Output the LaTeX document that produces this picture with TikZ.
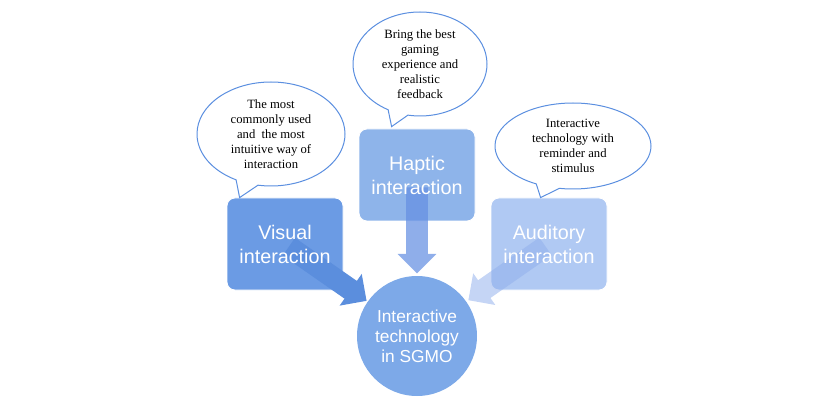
\documentclass[tikz,border=0pt]{standalone}
\usepackage{fontspec}
\setmainfont{Liberation Serif}
\setsansfont{Liberation Sans}
\usepackage{tikz}
\usetikzlibrary{shapes.callouts,shapes.arrows,calc}
\definecolor{visblue}{HTML}{6B9BE4}
\definecolor{hapblue}{HTML}{8EB4EA}
\definecolor{audblue}{HTML}{B0C9F3}
\definecolor{coreblue}{HTML}{7DA9E8}
\definecolor{visarrow}{HTML}{5B8EDD}
\definecolor{haparrow}{HTML}{6590E2}
\definecolor{audarrow}{HTML}{91AFEC}
\definecolor{bubbleline}{HTML}{5B8FE0}
\tikzset{
  font=\sffamily,
  modebox/.style={
    rounded corners=6pt, draw=white, line width=0.6pt,
    inner sep=0pt, minimum width=87pt, minimum height=69pt
  },
  boxlabel/.style={
    text=white, align=center, inner sep=0pt,
    font=\sffamily\fontsize{14.8}{18}\selectfont
  },
  corenode/.style={
    circle, fill=coreblue, text=white, align=center, inner sep=0pt,
    minimum size=90pt, font=\sffamily\fontsize{13}{15}\selectfont
  },
  bubble/.style={
    ellipse callout, draw=bubbleline, line width=0.75pt, fill=white,
    text=black, align=center, inner sep=0pt, callout pointer arc=18,
    font=\rmfamily\fontsize{9.5}{11.25}\selectfont
  },
  blockarrow/.style={
    single arrow, sloped, allow upside down, inner xsep=0pt, inner ysep=7.9pt,
    single arrow head extend=6.4pt, single arrow tip angle=90,
    minimum height=#1
  }
}

\begin{document}
\begin{tikzpicture}[x=0.75pt,y=-0.75pt]
  \useasboundingbox (0,0) rectangle (832,406);

  % ---- Interaction modes ----
  \node[modebox, fill=visblue] (vis) at (285,244) {};
  \node[modebox, fill=hapblue] (hap) at (417,175) {};
  \node[modebox, fill=audblue] (aud) at (549,244) {};

  % ---- Core ----
  \node[corenode] (core) at (417,336) {Interactive\\technology\\in SGMO};

  % ---- Arrows ----
  \path (vis.center) -- (core.center)
    node[blockarrow=71pt, fill=visarrow, pos=0.29] (visarr) {};
  \path (hap.center) -- (core.center)
    node[blockarrow=64.5pt, fill=haparrow, fill opacity=0.73, pos=0.31] (haparr) {};
  \path (aud.center) -- (core.center)
    node[blockarrow=70.5pt, fill=audarrow, fill opacity=0.53, pos=0.285] (audarr) {};

  % ---- Labels on top ----
  \node[boxlabel] at (vis.center) {Visual\\interaction};
  \node[boxlabel] at (hap.center) {Haptic\\interaction};
  \node[boxlabel] at (aud.center) {Auditory\\interaction};

  % ---- Callouts ----
  \node[bubble, minimum width=111pt, minimum height=78pt,
        callout absolute pointer={($(vis.north west)+(13,0)$)}] (visnote) at (271,134)
    {The most\\commonly used\\and\ \ the most\\intuitive way of\\interaction};
  \node[bubble, minimum width=100.5pt, minimum height=78pt,
        callout absolute pointer={($(hap.north west)+(33,-2)$)}] (hapnote) at (420,64)
    {Bring the best\\gaming\\experience and\\realistic\\feedback};
  \node[bubble, minimum width=117pt, minimum height=64.5pt,
        callout absolute pointer={($(aud.north west)+(50,0)$)}] (audnote) at (573,146)
    {Interactive\\technology with\\reminder and\\stimulus};
\end{tikzpicture}
\end{document}
